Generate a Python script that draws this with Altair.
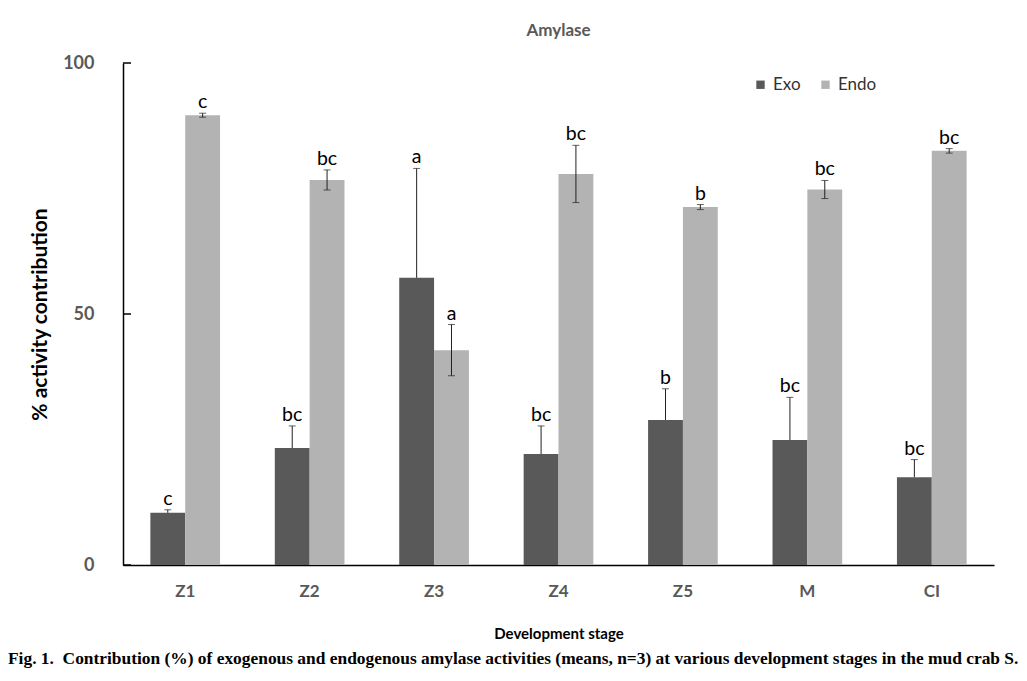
import altair as alt
import pandas as pd

stages = ["Z1", "Z2", "Z3", "Z4", "Z5", "M", "CI"]
exo = [10.4, 23.3, 57.2, 22.1, 28.9, 24.9, 17.5]
endo = [89.6, 76.7, 42.8, 77.9, 71.3, 74.8, 82.5]
exo_err = [0.6, 4.4, 21.8, 5.6, 6.2, 8.5, 3.5]
endo_err = [0.4, 2.0, 5.1, 5.7, 0.5, 1.8, 0.45]
exo_letters = ["c", "bc", "a", "bc", "b", "bc", "bc"]
endo_letters = ["c", "bc", "a", "bc", "b", "bc", "bc"]
y_ticks = [0, 50, 100]

rows = []
for i, s in enumerate(stages):
    rows.append(dict(stage=s, type="Exo", value=exo[i], lo=exo[i],
                     hi=exo[i] + exo_err[i], letter=exo_letters[i]))
    rows.append(dict(stage=s, type="Endo", value=endo[i], lo=endo[i] - endo_err[i],
                     hi=endo[i] + endo_err[i], letter=endo_letters[i]))
df = pd.DataFrame(rows)
ticks_df = pd.DataFrame({"t": y_ticks})

FONT = "Lato"
W, H = 871, 502

xenc = alt.X("stage:N", sort=stages,
             scale=alt.Scale(paddingInner=0.44, paddingOuter=0.22),
             axis=alt.Axis(title="Development stage", labelAngle=0, ticks=False,
                           domainColor="black", domainWidth=1.5,
                           labelFont=FONT, labelFontSize=17, labelFontWeight="bold",
                           labelColor="#595959", labelPadding=18,
                           titleFont=FONT, titleFontSize=15, titleFontWeight="bold",
                           titleColor="black", titlePadding=27))
xoff = alt.XOffset("type:N", sort=["Exo", "Endo"])
yscale = alt.Scale(domain=[0, 100], nice=False)

bars = alt.Chart(df).mark_bar().encode(
    x=xenc,
    xOffset=xoff,
    y=alt.Y("value:Q", scale=yscale,
            axis=alt.Axis(title="% activity contribution", values=y_ticks, ticks=False,
                          grid=False, domainColor="black", domainWidth=1.5,
                          labelFont=FONT, labelFontSize=18, labelFontWeight="bold",
                          labelColor="#595959", labelPadding=29,
                          titleFont=FONT, titleFontSize=21, titleFontWeight="bold",
                          titleColor="black", titlePadding=12)),
    color=alt.Color("type:N", sort=["Exo", "Endo"],
                    scale=alt.Scale(domain=["Exo", "Endo"], range=["#595959", "#b3b3b3"]),
                    legend=alt.Legend(title=None, orient="none", direction="horizontal",
                                      legendX=629, legendY=13, symbolType="square",
                                      symbolSize=70, symbolStrokeWidth=0,
                                      labelFont=FONT, labelFontSize=17,
                                      labelColor="#333333", columnPadding=16)),
)

err = alt.Chart(df).mark_rule(color="#222222", strokeWidth=1).encode(
    x=alt.X("stage:N", sort=stages), xOffset=xoff,
    y=alt.Y("lo:Q", scale=yscale), y2="hi:Q")

caps_hi = alt.Chart(df).mark_tick(color="#222222", thickness=1, size=7).encode(
    x=alt.X("stage:N", sort=stages), xOffset=xoff,
    y=alt.Y("hi:Q", scale=yscale))

caps_lo = alt.Chart(df[df["type"] == "Endo"]).mark_tick(color="#222222", thickness=1, size=7).encode(
    x=alt.X("stage:N", sort=stages), xOffset=xoff,
    y=alt.Y("lo:Q", scale=yscale))

letters = alt.Chart(df).mark_text(font=FONT, fontSize=19.5, color="black",
                                  baseline="alphabetic", dy=-5).encode(
    x=alt.X("stage:N", sort=stages), xOffset=xoff,
    y=alt.Y("hi:Q", scale=yscale), text="letter:N")

yticks = alt.Chart(ticks_df).mark_rule(color="black", strokeWidth=1.5).encode(
    y=alt.Y("t:Q", scale=yscale), x=alt.value(0), x2=alt.value(8))

caption_text = "Fig. 1.\u00a0\u00a0Contribution (%) of exogenous and endogenous amylase activities (means, n=3) at various development stages in the mud crab S."
caption = alt.Chart(pd.DataFrame({"c": [caption_text]})).mark_text(
    font="Liberation Serif", fontSize=17.4, fontWeight="bold", color="black",
    align="left", baseline="alphabetic").encode(
    x=alt.value(-115), y=alt.value(601), text="c:N")

chart = alt.layer(bars, err, caps_hi, caps_lo, letters, yticks, caption).properties(
    width=W, height=H,
    title=alt.TitleParams("Amylase", font=FONT, fontSize=17, fontWeight="bold",
                          color="#595959", anchor="middle", offset=14),
    autosize=alt.AutoSizeParams(type="none"),
    padding={"left": 115, "top": 55, "right": 25, "bottom": 105},
).configure_view(stroke=None).configure_axis(grid=False)

chart.save("out.html", embed_options={"renderer": "svg", "actions": False})
